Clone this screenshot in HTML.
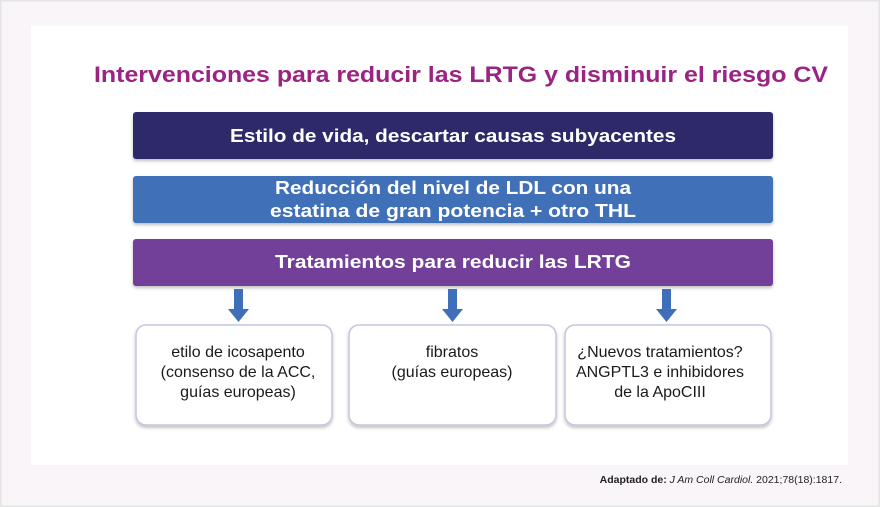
<!DOCTYPE html>
<html><head><meta charset="utf-8"><style>
html,body{margin:0;padding:0;background:#fff}
svg{display:block}
text{font-family:"Liberation Sans",sans-serif}
</style></head><body>
<svg width="880" height="507" viewBox="0 0 880 507" xmlns="http://www.w3.org/2000/svg">
<defs>
<filter id="sh" x="-10%" y="-10%" width="120%" height="130%"><feDropShadow dx="0" dy="2" stdDeviation="1.5" flood-color="#000" flood-opacity="0.25"/></filter>
</defs>
<rect x="0.5" y="0.5" width="879" height="506" fill="#faf5f9" stroke="#e4e4e4" stroke-width="2"/>
<rect x="31" y="26" width="817" height="439" fill="#fff"/>
<text x="94" y="82" font-size="22" font-weight="bold" fill="#9b2383" textLength="734" lengthAdjust="spacingAndGlyphs">Intervenciones para reducir las LRTG y disminuir el riesgo CV</text>
<rect x="133" y="112" width="640" height="47" rx="3" fill="#2e2a6b" filter="url(#sh)"/>
<text x="453" y="142" font-size="18" font-weight="bold" fill="#fff" text-anchor="middle" textLength="446" lengthAdjust="spacingAndGlyphs">Estilo de vida, descartar causas subyacentes</text>
<rect x="133" y="176" width="640" height="47" rx="3" fill="#3f6fb8" filter="url(#sh)"/>
<text x="453" y="194" font-size="18" font-weight="bold" fill="#fff" text-anchor="middle" textLength="356" lengthAdjust="spacingAndGlyphs">Reducción del nivel de LDL con una</text>
<text x="453" y="217" font-size="18" font-weight="bold" fill="#fff" text-anchor="middle" textLength="366" lengthAdjust="spacingAndGlyphs">estatina de gran potencia + otro THL</text>
<rect x="133" y="239" width="640" height="47" rx="3" fill="#723f98" filter="url(#sh)"/>
<text x="453" y="268" font-size="18" font-weight="bold" fill="#fff" text-anchor="middle" textLength="356" lengthAdjust="spacingAndGlyphs">Tratamientos para reducir las LRTG</text>
<g fill="#3f6fb8">
<polygon points="234,289 243,289 243,309 249,309 238.5,322 228,309 234,309"/>
<polygon points="448,289 457,289 457,309 463,309 452.5,322 442,309 448,309"/>
<polygon points="662,289 671,289 671,309 677,309 666.5,322 656,309 662,309"/>
</g>
<g fill="#fff" stroke="#c5c5e0" stroke-width="1.5" filter="url(#sh)">
<rect x="136" y="325" width="196" height="100" rx="10"/>
<rect x="349" y="325" width="207" height="100" rx="10"/>
<rect x="565" y="325" width="206" height="100" rx="10"/>
</g>
<g font-size="16" fill="#1a1a1a" text-anchor="middle">
<text x="238" y="357">etilo de icosapento</text>
<text x="238" y="377">(consenso de la ACC,</text>
<text x="238" y="397">guías europeas)</text>
<text x="452" y="357">fibratos</text>
<text x="452" y="377">(guías europeas)</text>
<text x="660" y="357">¿Nuevos tratamientos?</text>
<text x="660" y="377">ANGPTL3 e inhibidores</text>
<text x="660" y="397">de la ApoCIII</text>
</g>
<text x="842" y="483" font-size="10.5" fill="#222" text-anchor="end"><tspan font-weight="bold">Adaptado de: </tspan><tspan font-style="italic">J Am Coll Cardiol.</tspan> 2021;78(18):1817.</text>
</svg>
</body></html>
